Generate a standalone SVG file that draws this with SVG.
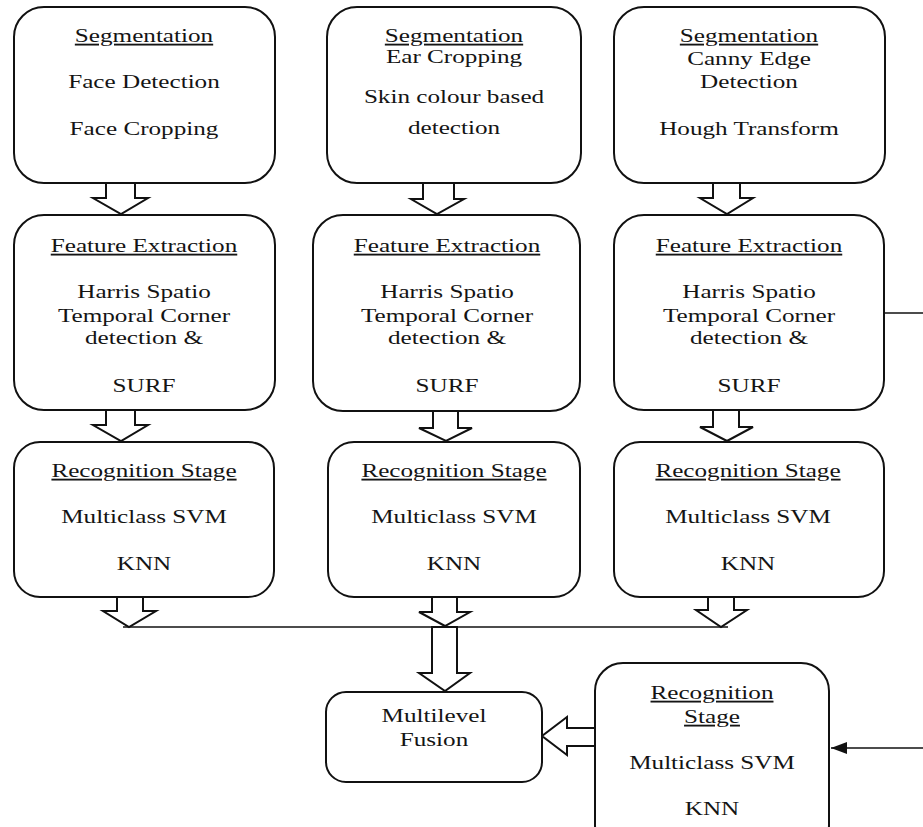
<svg xmlns="http://www.w3.org/2000/svg" width="923" height="827" viewBox="0 0 923 827">
  <style>
    .box { fill: #ffffff; stroke: #111111; stroke-width: 2; }
    .blk { fill: #ffffff; stroke: #111111; stroke-width: 2; stroke-linejoin: miter; }
    .ln { fill: none; stroke: #111111; stroke-width: 1.3; }
    .lbl { font-family: 'Liberation Serif', 'Times New Roman', Tinos, 'DejaVu Serif', serif; font-size: 18.5px; fill: #141414; text-anchor: middle; }
    .hd { text-decoration: underline; }
  </style>
  <defs>
    <marker id="solidHead" viewBox="0 0 16 12" refX="16" refY="6" markerWidth="16" markerHeight="12" markerUnits="userSpaceOnUse" orient="auto">
      <path d="M0,0 L16,6 L0,12 Z" fill="#111111"/>
    </marker>
  </defs>

  <!-- Connectors: block arrows between stages and plain lines -->
  <g id="connectors">
    <!-- segmentation -> feature extraction -->
    <polygon class="blk" points="106,183 135,183 135,198 148,198 121,214 93,198 106,198"/>
    <polygon class="blk" points="423,183 454,183 454,199 464,199 437,214 411,199 423,199"/>
    <polygon class="blk" points="713,182 740,182 740,198 753,198 727,214 700,198 713,198"/>
    <!-- feature extraction -> recognition -->
    <polygon class="blk" points="106,410 135,410 135,425 148,425 121,441 93,425 106,425"/>
    <polygon class="blk" points="433,411 458,411 458,428 472,428 446,441 419,428 433,428"/>
    <polygon class="blk" points="713,410 739,410 739,427 753,427 727,441 700,427 713,427"/>
    <!-- recognition -> collector line -->
    <polygon class="blk" points="117,597 143,597 143,611 156,611 129,627 103,611 117,611"/>
    <polygon class="blk" points="432,597 457,597 457,612 470,612 445,626 419,612 432,612"/>
    <polygon class="blk" points="708,597 734,597 734,610 747,610 721,627 696,610 708,610"/>
    <line class="ln" x1="123" y1="627" x2="728" y2="627"/>
    <!-- collector -> fusion -->
    <polygon class="blk" points="432,627 457,627 457,673 470,673 445,691 419,673 432,673"/>
    <!-- side recognition -> fusion -->
    <polygon class="blk" points="595,728 567,728 567,717 542,736 567,755 567,746 595,746"/>
    <!-- side branch lines -->
    <line class="ln" x1="885" y1="313" x2="923" y2="313"/>
    <line class="ln" x1="923" y1="748" x2="831" y2="748" marker-end="url(#solidHead)"/>
  </g>

  <!-- Column 1 -->
  <g id="seg-face">
    <rect class="box" x="14" y="7" width="261" height="176" rx="30" ry="30"/>
    <text class="lbl hd" transform="matrix(1.36 0 0 1 144 42)">Segmentation</text>
    <text class="lbl" transform="matrix(1.36 0 0 1 144 88)">Face Detection</text>
    <text class="lbl" transform="matrix(1.36 0 0 1 144 135)">Face Cropping</text>
  </g>
  <g id="feat-face">
    <rect class="box" x="14" y="215" width="261" height="195" rx="30" ry="30"/>
    <text class="lbl hd" transform="matrix(1.36 0 0 1 144 252)">Feature Extraction</text>
    <text class="lbl" transform="matrix(1.36 0 0 1 144 298)">Harris Spatio</text>
    <text class="lbl" transform="matrix(1.36 0 0 1 144 322)">Temporal Corner</text>
    <text class="lbl" transform="matrix(1.36 0 0 1 144 344)">detection &amp;</text>
    <text class="lbl" transform="matrix(1.36 0 0 1 144 392)">SURF</text>
  </g>
  <g id="recog-face">
    <rect class="box" x="14" y="442" width="260" height="155" rx="26" ry="26"/>
    <text class="lbl hd" transform="matrix(1.36 0 0 1 144 477)">Recognition Stage</text>
    <text class="lbl" transform="matrix(1.36 0 0 1 144 523)">Multiclass SVM</text>
    <text class="lbl" transform="matrix(1.36 0 0 1 144 570)">KNN</text>
  </g>

  <!-- Column 2 -->
  <g id="seg-ear">
    <rect class="box" x="327" y="7" width="254" height="176" rx="30" ry="30"/>
    <text class="lbl hd" transform="matrix(1.36 0 0 1 454 42)">Segmentation</text>
    <text class="lbl" transform="matrix(1.36 0 0 1 454 63)">Ear Cropping</text>
    <text class="lbl" transform="matrix(1.36 0 0 1 454 103)">Skin colour based</text>
    <text class="lbl" transform="matrix(1.36 0 0 1 454 134)">detection</text>
  </g>
  <g id="feat-ear">
    <rect class="box" x="313" y="215" width="267" height="196" rx="30" ry="30"/>
    <text class="lbl hd" transform="matrix(1.36 0 0 1 447 252)">Feature Extraction</text>
    <text class="lbl" transform="matrix(1.36 0 0 1 447 298)">Harris Spatio</text>
    <text class="lbl" transform="matrix(1.36 0 0 1 447 322)">Temporal Corner</text>
    <text class="lbl" transform="matrix(1.36 0 0 1 447 344)">detection &amp;</text>
    <text class="lbl" transform="matrix(1.36 0 0 1 447 392)">SURF</text>
  </g>
  <g id="recog-ear">
    <rect class="box" x="328" y="442" width="252" height="155" rx="26" ry="26"/>
    <text class="lbl hd" transform="matrix(1.36 0 0 1 454 477)">Recognition Stage</text>
    <text class="lbl" transform="matrix(1.36 0 0 1 454 523)">Multiclass SVM</text>
    <text class="lbl" transform="matrix(1.36 0 0 1 454 570)">KNN</text>
  </g>

  <!-- Column 3 -->
  <g id="seg-iris">
    <rect class="box" x="614" y="7" width="271" height="176" rx="30" ry="30"/>
    <text class="lbl hd" transform="matrix(1.36 0 0 1 749 42)">Segmentation</text>
    <text class="lbl" transform="matrix(1.36 0 0 1 749 65)">Canny Edge</text>
    <text class="lbl" transform="matrix(1.36 0 0 1 749 88)">Detection</text>
    <text class="lbl" transform="matrix(1.36 0 0 1 749 135)">Hough Transform</text>
  </g>
  <g id="feat-iris">
    <rect class="box" x="614" y="215" width="270" height="195" rx="30" ry="30"/>
    <text class="lbl hd" transform="matrix(1.36 0 0 1 749 252)">Feature Extraction</text>
    <text class="lbl" transform="matrix(1.36 0 0 1 749 298)">Harris Spatio</text>
    <text class="lbl" transform="matrix(1.36 0 0 1 749 322)">Temporal Corner</text>
    <text class="lbl" transform="matrix(1.36 0 0 1 749 344)">detection &amp;</text>
    <text class="lbl" transform="matrix(1.36 0 0 1 749 392)">SURF</text>
  </g>
  <g id="recog-iris">
    <rect class="box" x="614" y="442" width="270" height="155" rx="26" ry="26"/>
    <text class="lbl hd" transform="matrix(1.36 0 0 1 748 477)">Recognition Stage</text>
    <text class="lbl" transform="matrix(1.36 0 0 1 748 523)">Multiclass SVM</text>
    <text class="lbl" transform="matrix(1.36 0 0 1 748 570)">KNN</text>
  </g>

  <!-- Fusion and side recognition -->
  <g id="fusion">
    <rect class="box" x="326" y="692" width="216" height="90" rx="20" ry="20"/>
    <text class="lbl" transform="matrix(1.36 0 0 1 434 722)">Multilevel</text>
    <text class="lbl" transform="matrix(1.36 0 0 1 434 746)">Fusion</text>
  </g>
  <g id="recog-side">
    <rect class="box" x="595" y="663" width="234" height="190" rx="28" ry="28"/>
    <text class="lbl hd" transform="matrix(1.36 0 0 1 712 699)">Recognition</text>
    <text class="lbl hd" transform="matrix(1.36 0 0 1 712 723)">Stage</text>
    <text class="lbl" transform="matrix(1.36 0 0 1 712 769)">Multiclass SVM</text>
    <text class="lbl" transform="matrix(1.36 0 0 1 712 815)">KNN</text>
  </g>
</svg>
